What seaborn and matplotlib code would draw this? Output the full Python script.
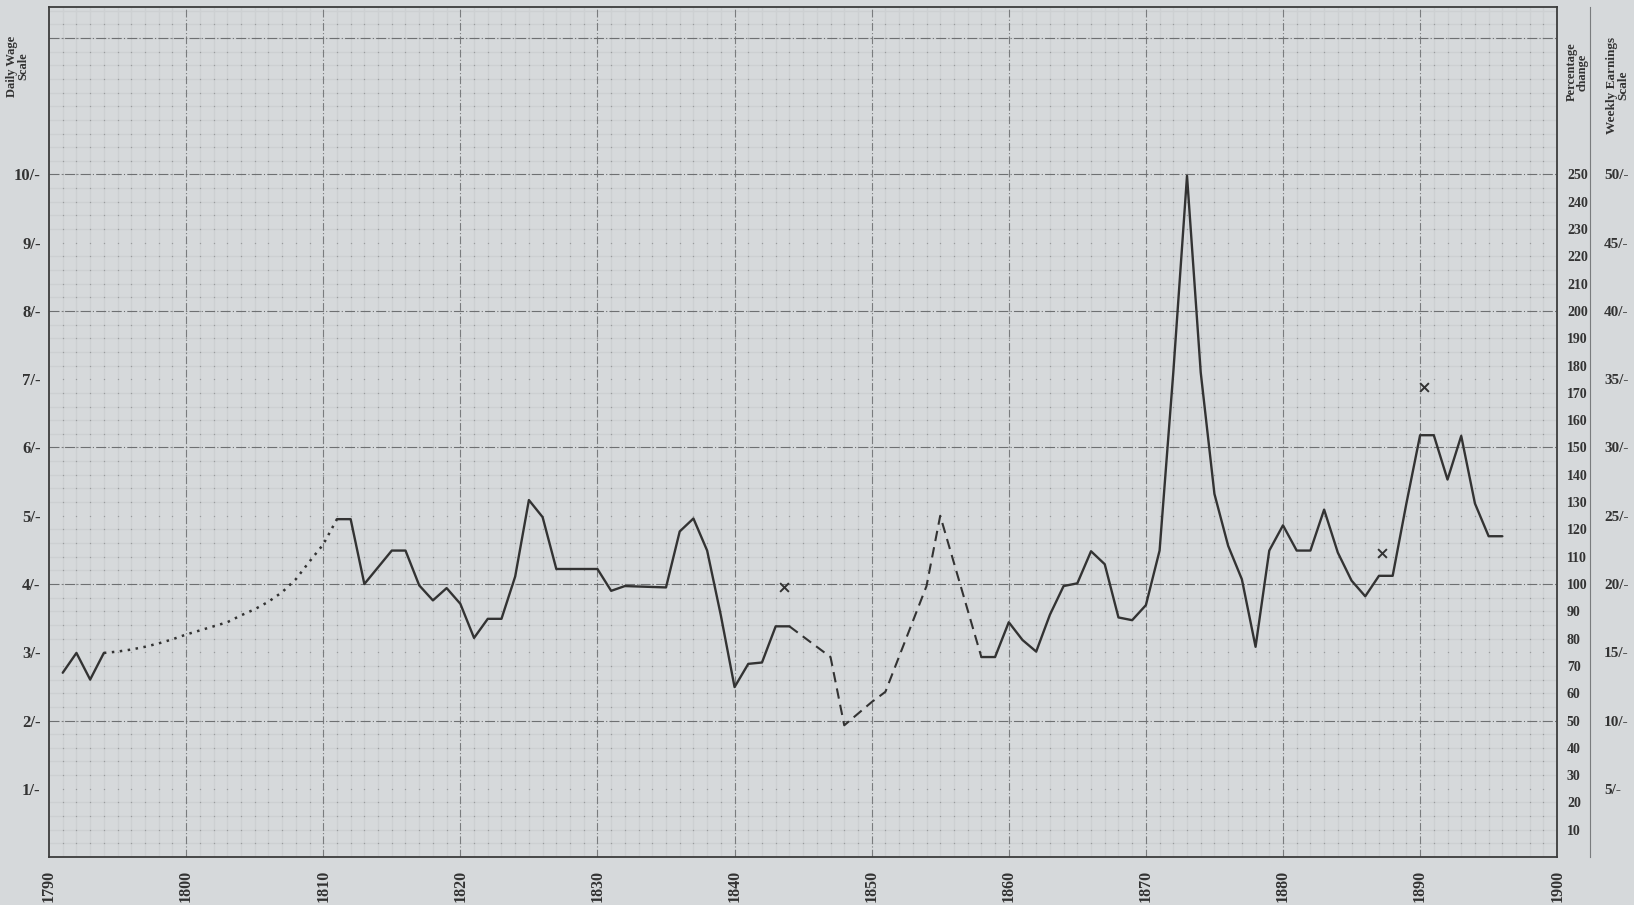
import numpy as np
import pandas as pd
import matplotlib
matplotlib.use("Agg")
import matplotlib.pyplot as plt
import seaborn as sns

# Daily wage (shillings)
early_years = [1791, 1792, 1793, 1794]
early_wage = [2.70, 2.99, 2.60, 2.99]

# dotted (estimated) stretch
est_years = list(range(1794, 1812))
est_wage = [2.99, 3.01, 3.04, 3.08, 3.13, 3.19, 3.26, 3.32, 3.38,
            3.44, 3.54, 3.63, 3.74, 3.88, 4.07, 4.33, 4.58, 4.95]

mid_years = [1811, 1812, 1813, 1815, 1816, 1817, 1818, 1819, 1820, 1821,
             1822, 1823, 1824, 1825, 1826, 1827, 1830, 1831, 1832, 1835,
             1836, 1837, 1838, 1839, 1840, 1841, 1842, 1843, 1844]
mid_wage = [4.95, 4.95, 4.00, 4.49, 4.49, 3.98, 3.76, 3.94, 3.71, 3.21,
            3.49, 3.49, 4.11, 5.23, 4.98, 4.22, 4.22, 3.90, 3.97, 3.95,
            4.77, 4.96, 4.49, 3.54, 2.49, 2.83, 2.85, 3.38, 3.38]

# dashed stretch
gap_years = [1844, 1847, 1848, 1850, 1851, 1854, 1855, 1858]
gap_wage = [3.38, 2.93, 1.93, 2.27, 2.42, 3.97, 5.00, 2.93]

late_years = list(range(1858, 1897))
late_wage = [2.93, 2.93, 3.44, 3.18, 3.01, 3.55, 3.97, 4.01, 4.48, 4.29,
             3.51, 3.47, 3.69, 4.49, 7.10, 9.98, 7.10, 5.32, 4.56, 4.07,
             3.08, 4.49, 4.86, 4.49, 4.49, 5.09, 4.46, 4.05, 3.82, 4.12,
             4.12, 5.18, 6.18, 6.18, 5.53, 6.17, 5.18, 4.70, 4.70]

# isolated crosses
cross_years = [1843.6, 1887.2, 1890.3]
cross_wage = [3.95, 4.45, 6.88]

decades = list(range(1790, 1901, 10))
daily_ticks = list(range(1, 11))
pct_ticks = list(range(10, 251, 10))
weekly_ticks = list(range(5, 51, 5))

paper = "#d6d9db"
ink = "#333333"
serif = ["Liberation Serif", "DejaVu Serif"]

sns.set_theme(style="white")
plt.rcParams["font.family"] = serif

fig = plt.figure(figsize=(16.34, 9.05), dpi=100, facecolor=paper)
ax = fig.add_axes([0.030, 0.053, 0.923, 0.939])
ax.set_facecolor(paper)
ax.set_xlim(1790, 1900)
ax.set_ylim(0, 12.45)

# graph paper: faint ruling, dots, dash-dot every decade / 2s
ax.set_xticks(np.arange(1790, 1901, 1), minor=True)
ax.set_yticks(np.arange(0, 12.45, 0.2), minor=True)
ax.grid(which="minor", color="#cdd0d2", lw=1.0, ls="-")
gx, gy = np.meshgrid(np.arange(1791, 1900, 1), np.arange(0.2, 12.4, 0.2))
ax.scatter(gx.ravel(), gy.ravel(), s=1.0, color="#9a9c9e", lw=0, zorder=1)
for yr in decades[1:-1]:
    ax.axvline(yr, color="#7a7c7e", lw=0.8, ls=(0, (7, 2, 1, 2)), zorder=1.5)
for s in [2, 4, 6, 8, 10, 12]:
    ax.axhline(s, color="#6e7072", lw=0.8, ls=(0, (9, 2, 1, 2)), zorder=1.5)

solid_kw = dict(color=ink, lw=1.7, zorder=3)
for yrs, vals in [(early_years, early_wage), (mid_years, mid_wage),
                  (late_years, late_wage)]:
    df = pd.DataFrame({"year": yrs, "wage": vals})
    sns.lineplot(data=df, x="year", y="wage", ax=ax, **solid_kw)

df_est = pd.DataFrame({"year": est_years, "wage": est_wage})
sns.lineplot(data=df_est, x="year", y="wage", ax=ax, color=ink, lw=1.8,
             ls=(0, (1, 2.2)), zorder=3)
df_gap = pd.DataFrame({"year": gap_years, "wage": gap_wage})
sns.lineplot(data=df_gap, x="year", y="wage", ax=ax, color=ink, lw=1.5,
             ls=(0, (5, 3)), zorder=3)

sns.scatterplot(x=cross_years, y=cross_wage, ax=ax, marker="x", s=40,
                color=ink, linewidth=1.4, zorder=4)

for sp in ax.spines.values():
    sp.set_color("#3c3c3c")
    sp.set_linewidth(1.3)

ax.set_xlabel("")
ax.set_ylabel("")
ax.set_xticks(decades)
ax.set_xticklabels([str(d) for d in decades], rotation=90, fontsize=11.5,
                   fontweight="bold", color=ink)
ax.set_yticks(daily_ticks)
ax.set_yticklabels([f"{d}/-" for d in daily_ticks], fontsize=12,
                   fontweight="bold", color=ink)
ax.tick_params(axis="x", which="both", length=0, pad=9)
ax.tick_params(axis="y", which="both", length=0, pad=6)

pct = ax.secondary_yaxis("right", functions=(lambda s: s * 25, lambda p: p / 25))
pct.set_yticks(pct_ticks)
pct.set_yticklabels([str(p) for p in pct_ticks], fontsize=10,
                    fontweight="bold", color=ink)
pct.tick_params(length=0, pad=7)
pct.spines["right"].set_visible(False)

wk = ax.secondary_yaxis(1.0219, functions=(lambda s: s * 5, lambda w: w / 5))
wk.set_yticks(weekly_ticks)
wk.set_yticklabels([f"{w}/-" for w in weekly_ticks], fontsize=11,
                   fontweight="bold", color=ink)
wk.tick_params(length=0, pad=10)
wk.spines["right"].set_color("#7a7c7e")
wk.spines["right"].set_linewidth(0.8)

fig.text(18 / 1634, 1 - 66 / 905, "Daily Wage\nScale", rotation=90,
         ha="center", va="center", fontsize=9, fontweight="bold",
         color=ink, linespacing=0.9)
fig.text(1577 / 1634, 1 - 72 / 905, "Percentage\nchange", rotation=90,
         ha="center", va="center", fontsize=9, fontweight="bold",
         color=ink, linespacing=0.9)
fig.text(1618 / 1634, 1 - 85 / 905, "Weekly Earnings\nScale", rotation=90,
         ha="center", va="center", fontsize=9.5, fontweight="bold",
         color=ink, linespacing=0.9)

fig.savefig("out.png", dpi=100, facecolor=paper)
